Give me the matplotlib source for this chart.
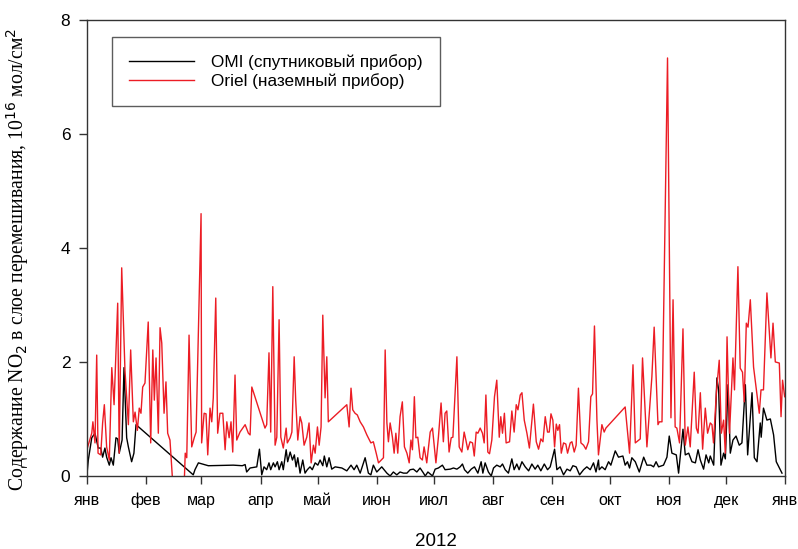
import matplotlib.pyplot as plt

# day of year 2012 (0 = 1 Jan) and NO2 column, 10^16 mol/cm^2
oriel_day = [0.2, 2.5, 3.1, 4.2, 5.1, 5.8, 7.2, 8.2, 9.1, 10.3, 11.7, 13.0, 14.2, 16.1, 16.9,
             18.2, 19.9, 21.7, 22.9, 24.3, 25.2, 26.4, 27.4, 28.3, 29.2, 30.4, 32.1, 33.4, 34.5,
             35.3, 36.2, 37.4, 38.3, 39.2, 40.4, 41.4, 42.3, 43.5, 44.9, 51.0, 51.5, 52.3, 53.5,
             54.9, 56.3, 57.2, 59.8, 60.1, 61.4, 62.4, 63.3, 64.5, 65.4, 66.2, 67.5, 68.5, 69.7,
             71.2, 72.4, 73.3, 74.5, 75.5, 76.4, 77.6, 78.5, 80.2, 82.9, 84.6, 85.5, 86.4, 93.3,
             94.2, 95.4, 96.3, 97.4, 98.6, 99.5, 100.7, 101.6, 102.9, 104.4, 105.0, 106.5, 107.4,
             108.6, 109.4, 110.5, 111.7, 112.6, 113.8, 115.2, 116.4, 117.5, 118.7, 119.6, 120.8,
             121.7, 122.7, 123.6, 124.8, 125.7, 126.5, 136.2, 137.4, 138.4, 139.3, 140.5, 141.7,
             143.2, 144.9, 146.7, 148.8, 150.1, 151.6, 152.8, 155.4, 156.3, 157.2, 158.0, 158.9,
             160.1, 161.0, 161.9, 162.9, 164.1, 165.3, 166.4, 167.7, 168.9, 169.8, 170.6, 171.6,
             172.4, 173.4, 174.6, 175.8, 176.7, 178.1, 179.9, 181.1, 182.9, 184.2, 185.6, 186.8,
             187.7, 188.6, 189.8, 190.9, 191.8, 193.9, 195.1, 196.5, 197.7, 198.6, 199.6, 200.8,
             202.1, 203.0, 204.0, 204.9, 206.1, 207.3, 208.2, 209.1, 210.1, 211.0, 212.2, 213.6,
             214.8, 216.1, 216.9, 217.8, 218.8, 219.7, 221.5, 222.7, 223.9, 225.0, 225.9, 227.1,
             228.0, 229.2, 230.6, 231.9, 234.0, 235.5, 236.7, 237.9, 239.0, 240.2, 241.4, 242.3,
             243.2, 244.2, 245.1, 246.0, 246.8, 247.7, 248.6, 249.8, 251.0, 251.9, 253.3, 254.2,
             255.4, 256.4, 257.6, 258.9, 260.3, 261.5, 262.9, 264.1, 265.0, 266.0, 267.3, 268.1,
             269.9, 271.1, 272.0, 282.1, 284.4, 286.2, 287.4, 290.0, 291.2, 293.5, 296.1, 297.3,
             299.3, 300.0, 301.4, 304.3, 306.1, 307.2, 308.3, 309.2, 310.6, 312.4, 313.6, 315.0,
             316.2, 318.3, 319.4, 320.3, 321.5, 322.7, 324.1, 325.3, 326.7, 327.6, 328.4, 329.9,
             331.4, 332.5, 333.7, 334.6, 335.5, 336.8, 338.6, 339.4, 341.2, 342.4, 343.6, 344.5,
             345.6, 346.5, 347.7, 349.4, 352.4, 353.3, 354.6, 356.4, 358.5, 359.6, 360.8, 362.9,
             363.8, 364.6, 365.7]
oriel_val = [0.49, 0.75, 0.95, 0.58, 2.12, 0.40, 0.37, 0.93, 1.25, 0.51, 0.28, 1.90, 1.25, 3.03, 0.40,
             3.65, 1.86, 0.90, 2.21, 0.95, 1.12, 0.80, 1.19, 1.10, 1.56, 1.63, 2.70, 0.58, 2.21,
             1.33, 2.07, 0.75, 2.60, 2.33, 1.10, 1.65, 0.75, 0.63, -0.1, -0.1, 0.40, 0.32, 2.47,
             0.51, 0.68, 0.77, 4.60, 0.58, 1.10, 1.09, 0.37, 1.19, 0.95, 1.37, 3.12, 0.75, 1.10,
             1.10, 0.46, 0.95, 0.67, 0.95, 0.42, 1.77, 0.63, 0.77, 0.90, 0.75, 0.72, 1.56, 0.84,
             0.90, 2.16, 0.77, 3.32, 0.54, 0.68, 2.74, 0.68, 0.49, 0.84, 0.58, 0.67, 0.77,
             2.09, 1.33, 0.63, 1.04, 0.93, 0.54, 0.68, 0.93, 0.23, 0.54, 0.40, 0.86,
             0.54, 0.86, 2.82, 1.37, 2.09, 0.95, 1.25, 0.86, 1.54, 1.16, 1.10, 1.07,
             0.95, 0.86, 0.72, 0.58, 0.60, 0.40, 0.23, 0.32, 2.21, 0.93, 0.60, 0.93,
             0.68, 0.40, 0.75, 0.40, 1.04, 1.30, 0.51, 0.40, 0.23, 0.63, 0.46, 1.39,
             0.67, 0.68, 0.32, 0.28, 0.51, 0.23, 0.77, 0.84, 0.23, 0.68, 1.28, 0.60,
             1.10, 1.14, 0.42, 0.67, 0.68, 2.09, 0.51, 0.42, 0.77, 0.63, 0.46, 0.60,
             0.58, 0.35, 0.77, 0.75, 0.84, 0.75, 0.58, 1.42, 0.42, 0.39, 0.63, 1.39,
             1.68, 0.68, 1.04, 0.75, 1.10, 0.58, 0.60, 1.14, 0.77, 1.25, 1.16, 1.42,
             1.46, 0.98, 0.75, 0.49, 1.26, 0.60, 0.47, 0.65, 0.60, 1.04, 0.77, 0.77,
             1.09, 0.98, 0.51, 0.91, 0.80, 0.90, 0.40, 0.58, 0.56, 0.40, 0.58, 0.60,
             0.42, 0.54, 1.54, 0.58, 0.54, 0.47, 0.60, 1.39, 1.44, 2.63, 0.98, 0.37,
             0.90, 0.77, 0.84, 1.21, 0.40, 1.95, 0.58, 0.65, 2.07, 0.51, 1.74, 2.61,
             0.90, 0.95, 0.95, 7.33, 1.02, 3.09, 0.86, 0.84, 0.58, 2.58, 0.54, 0.86,
             0.51, 1.82, 0.84, 0.75, 1.46, 0.47, 1.19, 0.75, 0.93, 0.90, 0.58, 1.46,
             2.03, 0.75, 0.98, 0.40, 2.44, 0.75, 2.07, 1.51, 3.67, 1.89, 1.82, 1.30,
             2.68, 2.61, 3.09, 1.91, 1.10, 1.51, 1.51, 3.21, 2.07, 2.68, 2.00, 1.98,
             1.04, 1.68, 1.39]

omi_day = [0.2, 0.7, 2.5, 4.2, 5.9, 7.2, 8.2, 9.4, 10.3, 11.7, 12.6, 13.8, 15.2, 16.1, 16.9, 18.4,
           19.4, 20.8, 21.7, 23.4, 24.6, 25.7, 55.7, 56.6, 58.4, 63.6, 76.7, 81.4, 82.9, 83.7,
           85.5, 89.0, 90.4, 91.6, 92.8, 94.2, 95.4, 96.3, 97.7, 98.6, 99.8, 100.7, 102.1, 102.9,
           104.4, 105.2, 106.5, 107.7, 108.7, 109.6, 110.5, 111.7, 113.1, 114.3, 115.5, 116.9,
           118.1, 119.6, 121.0, 122.2, 123.6, 124.4, 125.7, 126.9, 128.3, 130.1, 133.6, 136.2,
           138.4, 140.0, 141.4, 143.2, 145.8, 147.5, 148.8, 150.1, 151.9, 154.5, 157.2, 158.9,
           160.6, 162.4, 164.1, 165.9, 167.7, 169.4, 171.1, 172.9, 174.6, 176.4, 177.3, 178.7,
           181.1, 182.5, 184.2, 186.3, 187.7, 190.4, 192.1, 193.9, 195.6, 196.8, 197.9, 199.6,
           201.4, 203.1, 204.9, 206.6, 207.5, 208.7, 210.4, 211.9, 213.1, 214.8, 216.6, 217.8,
           219.2, 220.9, 222.7, 223.9, 225.3, 226.5, 228.0, 229.7, 231.5, 233.2, 234.9, 236.3,
           237.9, 239.7, 241.4, 242.8, 243.7, 245.1, 246.3, 248.0, 249.8, 251.6, 253.3, 254.7,
           256.4, 258.2, 260.3, 262.0, 263.8, 265.5, 266.8, 268.1, 268.5, 269.9, 271.6, 273.4,
           274.6, 276.9, 278.6, 280.9, 282.1, 283.3, 284.4, 285.6, 287.4, 289.5, 291.8, 293.5,
           295.6, 297.0, 298.3, 299.6, 302.2, 304.0, 305.2, 306.6, 308.9, 310.1, 312.4, 313.6,
           315.4, 317.1, 318.9, 320.3, 321.5, 323.2, 324.5, 325.9, 326.7, 328.5, 330.2, 331.1,
           332.3, 333.7, 334.6, 336.0, 337.2, 338.6, 340.2, 341.9, 343.3, 345.1, 346.3, 348.6,
           349.8, 351.2, 352.9, 353.4, 354.6, 356.4, 358.2, 359.9, 361.3, 364.3]
omi_val = [0.10, 0.28, 0.67, 0.75, 0.49, 0.49, 0.33, 0.49, 0.33, 0.19, 0.32, 0.19, 0.67, 0.65, 0.40, 0.63,
           1.90, 0.67, 0.51, 0.25, 0.40, 0.90, 0.02, 0.11, 0.23, 0.18, 0.19, 0.18, 0.20, 0.07,
           0.14, 0.16, 0.47, 0.02, 0.16, 0.11, 0.23, 0.11, 0.23, 0.16, 0.25, 0.11, 0.25, 0.11,
           0.46, 0.25, 0.42, 0.28, 0.37, 0.16, 0.32, 0.05, 0.28, 0.05, 0.11, 0.16,
           0.11, 0.23, 0.19, 0.28, 0.18, 0.35, 0.16, 0.32, 0.12, 0.16, 0.14, 0.09,
           0.19, 0.11, 0.19, 0.05, 0.32, 0.05, 0.02, 0.19, 0.07, 0.16, 0.05, 0.00,
           0.07, 0.02, 0.07, 0.05, 0.05, 0.11, 0.12, 0.07, 0.14, 0.05, 0.00, 0.07,
           0.00, 0.12, 0.14, 0.19, 0.11, 0.12, 0.14, 0.12, 0.16, 0.21, 0.11, 0.05,
           0.12, 0.16, 0.05, 0.25, 0.05, 0.23, 0.07, 0.00, 0.14, 0.19, 0.16, 0.21,
           0.11, 0.05, 0.30, 0.11, 0.21, 0.11, 0.25, 0.16, 0.09, 0.21, 0.12, 0.19,
           0.09, 0.21, 0.11, 0.16, 0.28, 0.47, 0.11, 0.16, 0.02, 0.12, 0.09, 0.18,
           0.16, 0.02, 0.11, 0.16, 0.11, 0.23, 0.07, 0.28, 0.11, 0.16, 0.11, 0.25,
           0.19, 0.44, 0.33, 0.35, 0.19, 0.25, 0.14, 0.32, 0.25, 0.07, 0.33, 0.19,
           0.19, 0.16, 0.25, 0.16, 0.19, 0.33, 0.70, 0.40, 0.37, 0.05, 0.82, 0.37,
           0.40, 0.25, 0.23, 0.46, 0.28, 0.12, 0.37, 0.23, 0.35, 0.19, 1.72, 1.51,
           0.19, 0.40, 0.30, 1.60, 0.40, 0.63, 0.70, 0.54, 0.58, 1.60, 0.37, 1.46,
           0.32, 0.25, 0.93, 0.68, 1.19, 0.98, 1.00, 0.72, 0.25, 0.05]

month_start = [0, 31, 60, 91, 121, 152, 182, 213, 244, 274, 305, 335, 366]
month_names = ['янв', 'фев', 'мар', 'апр', 'май', 'июн', 'июл', 'авг', 'сен', 'окт', 'ноя', 'дек', 'янв']

plt.rcParams['font.family'] = ['Liberation Sans', 'DejaVu Sans']

fig = plt.figure(figsize=(7.98, 5.49), dpi=100)
ax = fig.add_axes([0.109, 0.133, 0.875, 0.831])

ax.plot(omi_day, omi_val, color='black', lw=1.0, label='OMI (спутниковый прибор)')
ax.plot(oriel_day, oriel_val, color='#ec1c24', lw=1.0, label='Oriel (наземный прибор)')

ax.set_xlim(0, 366)
ax.set_ylim(0, 8)
ax.set_yticks([0, 2, 4, 6, 8])
ax.set_xticks(month_start)
ax.set_xticklabels(month_names)
ax.tick_params(direction='out', length=6, width=1, labelsize=12.5, colors='#333333', labelcolor='black', pad=6)
ax.tick_params(axis='x', labelsize=11.5, pad=15)
for lbl in ax.get_xticklabels():
    lbl.set_verticalalignment('baseline')
for s in ax.spines.values():
    s.set_color('#333333')
    s.set_linewidth(1.0)

ax.set_xlabel('2012', fontsize=13.5)
ax.xaxis.set_label_coords(0.5, -0.124)
ax.set_ylabel('Содержание NO$_2$ в слое перемешивания, 10$^{16}$ мол/см$^2$',
              fontsize=14.2, family=['Liberation Serif', 'DejaVu Serif'])
ax.yaxis.set_label_coords(-0.08, 0.475)

leg = ax.legend(loc='upper left', bbox_to_anchor=(0.036, 0.963), fontsize=12.3,
                frameon=True, fancybox=False, edgecolor='#333333', handlelength=3.8,
                borderpad=1.0, labelspacing=0.2, handletextpad=1.0, borderaxespad=0)
leg.get_frame().set_linewidth(1.0)

fig.savefig('out.png', dpi=100)
